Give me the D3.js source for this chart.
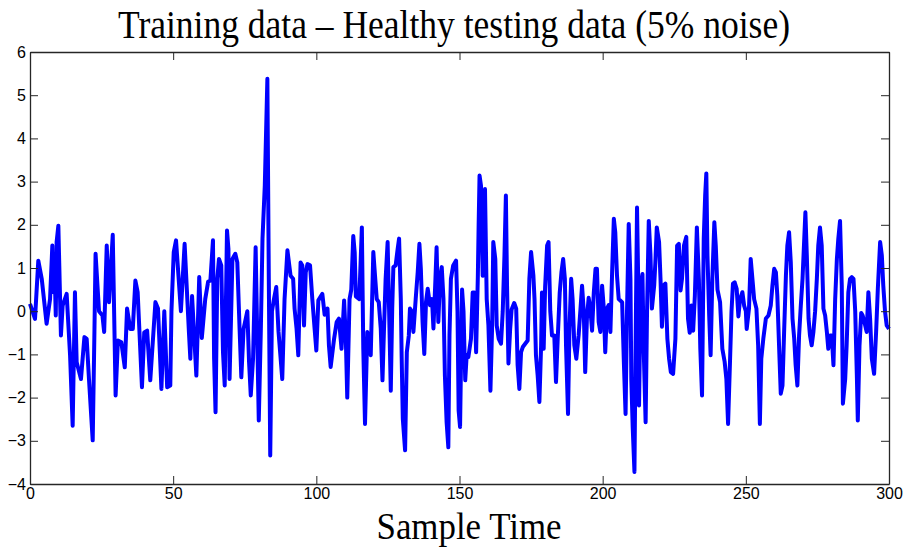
<!DOCTYPE html>
<html>
<head>
<meta charset="utf-8">
<script src="https://cdn.jsdelivr.net/npm/d3@7"></script>
<style>
  body { margin: 0; background: #fff; }
  svg { display: block; }
</style>
</head>
<body>
<svg id="chart" width="909" height="548"></svg>
<script>
// values (turning points of the trace)
const sampleTime = [
  0, 1.75, 2.9, 4.1, 5.8, 7.0, 7.8, 8.2, 8.5, 9.0, 9.3, 9.9, 10.8, 11.4, 12.8, 14.0, 14.9, 15.7, 16.3, 17.8,
  19.0, 19.8, 20.6, 21.9, 22.5, 22.9, 24.1, 25.3, 25.9, 26.8, 27.6, 28.9, 29.9, 30.7, 31.9, 33.1, 33.9, 35.0, 35.9, 36.8,
  37.6, 39.1, 39.9, 40.9, 42.0, 43.8, 44.7, 45.9, 46.9, 47.9, 49.0, 49.4, 50.2, 51.0, 52.7, 54.0, 55.5, 56.0, 56.6, 58.1,
  59.1, 60.0, 61.2, 62.2, 63.0, 63.9, 64.3, 64.8, 65.4, 66.0, 66.8, 67.4, 68.0, 68.8, 69.3, 69.7, 70.7, 71.7, 72.4, 73.2,
  73.8, 74.6, 75.9, 76.5, 77.1, 77.9, 78.8, 79.9, 80.6, 81.2, 82.0, 82.9, 83.4, 83.9, 84.5, 85.2, 86.0, 86.8, 88.1, 88.9,
  89.9, 91.0, 91.9, 92.4, 93.1, 93.7, 94.5, 95.1, 95.7, 96.3, 96.9, 97.8, 98.6, 99.4, 100.0, 100.7, 102.1, 102.9, 103.9, 104.4,
  105.0, 106.2, 107.1, 107.9, 108.8, 109.7, 110.3, 110.8, 111.6, 112.2, 112.9, 113.4, 113.8, 115.0, 115.9, 116.4, 117.0, 117.8, 119.0, 119.9,
  120.5, 121.1, 121.8, 122.5, 123.1, 123.6, 124.2, 124.9, 125.4, 126.0, 126.5, 126.9, 127.7, 128.4, 128.9, 129.5, 129.8, 130.2, 131.0, 131.6,
  132.3, 132.7, 133.3, 133.9, 134.7, 135.4, 136.0, 136.5, 137.1, 137.7, 138.3, 138.9, 139.7, 140.4, 140.9, 141.6, 142.0, 142.6, 143.2, 143.8,
  144.4, 144.9, 145.5, 146.1, 146.5, 147.0, 147.8, 148.8, 149.3, 149.7, 150.2, 150.9, 151.4, 152.0, 152.5, 153.1, 154.0, 154.6, 155.2, 155.8,
  156.4, 156.7, 157.0, 157.5, 158.1, 158.4, 158.9, 159.5, 160.1, 160.8, 161.4, 161.8, 162.5, 163.0, 163.7, 164.5, 165.1, 165.7, 166.2, 166.6,
  167.1, 167.7, 168.2, 169.1, 169.8, 170.3, 170.9, 171.5, 172.1, 173.8, 174.4, 175.0, 175.8, 176.2, 176.7, 177.3, 177.9, 178.5, 178.8, 179.4,
  179.9, 180.6, 181.1, 181.7, 182.3, 183.1, 183.7, 184.3, 185.0, 185.6, 186.2, 186.8, 187.2, 187.9, 188.4, 189.0, 189.5, 190.1, 190.8, 191.6,
  192.2, 192.8, 193.4, 193.9, 194.5, 195.1, 195.7, 196.3, 196.9, 197.5, 198.0, 198.6, 199.2, 199.8, 200.4, 200.9, 201.5, 202.1, 202.7, 203.3,
  203.9, 204.4, 205.0, 205.6, 206.8, 207.4, 208.0, 208.5, 209.1, 209.7, 210.0, 210.5, 211.1, 211.5, 212.0, 212.4, 212.7, 213.3, 213.9, 214.3,
  215.0, 215.5, 216.1, 216.7, 217.2, 218.0, 218.4, 218.9, 219.7, 220.2, 220.7, 221.3, 221.9, 222.6, 223.2, 223.8, 224.6, 225.4, 226.0, 226.6,
  227.2, 227.7, 228.4, 229.2, 229.8, 230.4, 231.0, 231.6, 232.2, 232.9, 233.6, 234.1, 234.7, 235.3, 235.8, 236.2, 236.6, 237.2, 237.7, 238.3,
  239.0, 239.5, 240.1, 241.0, 241.8, 242.6, 243.2, 243.8, 244.5, 245.0, 245.5, 246.1, 246.8, 247.4, 248.0, 248.8, 249.4, 250.0, 250.3, 251.1,
  251.7, 252.3, 252.9, 253.7, 254.3, 254.9, 255.4, 256.1, 257.0, 257.9, 258.7, 259.3, 259.9, 260.5, 261.0, 261.6, 262.2, 262.8, 263.4, 264.0,
  264.5, 265.1, 265.7, 266.3, 266.9, 267.4, 268.0, 268.6, 269.2, 269.8, 270.3, 270.8, 271.3, 271.9, 272.4, 273.0, 273.6, 274.2, 274.8, 275.3,
  275.9, 276.5, 277.1, 277.7, 278.3, 278.8, 279.4, 280.0, 280.6, 281.2, 281.8, 282.3, 282.9, 283.5, 283.9, 284.7, 285.2, 285.8, 286.4, 287.0,
  287.6, 288.2, 288.8, 289.1, 289.7, 290.3, 290.8, 291.7, 292.2, 292.8, 293.4, 294.0, 294.8, 295.5, 296.1, 296.9, 297.5, 298.0, 298.6, 299.2,
  300.0
];
const signal = [
  0.17, -0.18, 1.17, 0.75, -0.29, 0.28, 1.52, 0.44, 1.21, -0.1, 1.6, 1.98, -0.56, 0.13, 0.4, -1.03, -2.65, 0.44, -1.18, -1.57,
  -0.6, -0.64, -1.57, -2.99, -0.48, 1.33, 0.0, -0.1, -0.48, 1.52, 0.21, 1.77, -1.95, -0.68, -0.72, -1.3, 0.06, -0.41, -0.41, 0.71,
  0.44, -1.76, -0.49, -0.45, -1.6, 0.21, 0.06, -1.8, 0.0, -1.76, -1.72, 0.0, 1.37, 1.64, 0.0, 1.56, -0.48, -1.1, 0.35, -1.49,
  0.79, -0.62, 0.28, 0.68, 0.71, 1.64, -1.1, -2.34, 0.75, 1.21, 1.06, -0.95, -1.72, 1.87, 1.44, -1.57, 1.21, 1.33, 1.13, -0.41,
  -1.53, -0.41, 0.0, -1.17, -1.95, -1.1, 1.48, -2.53, -0.48, 1.68, 2.91, 5.38, 0.75, -3.34, 0.0, 0.28, 0.56, -0.48, -1.57, 0.28,
  1.41, 0.82, 0.75, 0.06, -0.41, -1.02, 1.13, 1.06, -0.33, 0.9, 1.09, 1.06, 0.28, -0.41, -0.91, 0.25, 0.4, -0.08, 0.06, -0.79,
  -1.29, -0.64, -0.25, -0.17, -0.87, 0.25, -0.64, -2.0, 0.28, 0.5, 1.74, 1.36, 0.34, 0.28, 1.94, -0.87, -2.61, -0.48, -1.02, 1.37,
  0.82, 0.28, 0.21, -0.4, -1.6, -0.48, 0.75, 1.6, 0.06, -1.84, 0.06, 1.02, 1.06, 1.44, 1.68, 0.28, -1.06, -2.49, -3.22, -0.95,
  -0.56, 0.06, 0.0, -0.48, 0.28, 0.9, 1.56, 0.98, -0.25, -0.99, 0.21, 0.52, 0.14, 0.28, -0.4, 0.75, 1.48, -0.25, 0.75, 1.02,
  0.28, -1.49, -2.57, -3.15, -0.56, 0.75, 1.06, 1.17, 0.0, -2.3, -2.68, 0.5, 0.0, -1.6, -1.02, -1.06, -0.64, 0.43, 0.43, -0.95,
  0.79, 2.06, 3.14, 2.91, 0.82, 1.13, 2.83, 0.28, -0.33, -1.84, -0.33, 1.6, 1.21, -0.33, -0.64, -0.75, 0.0, 1.29, 2.68, 0.6,
  -1.21, -0.4, 0.04, 0.19, 0.06, -1.25, -1.8, -0.95, -0.83, -0.68, 0.75, 1.37, 0.83, 0.28, -1.02, -1.49, -2.1, -0.8, 0.43, -0.87,
  0.56, 1.52, 1.6, 0.0, -0.56, -0.56, -1.64, -0.64, 0.43, 0.9, 1.21, 0.75, -0.79, -2.38, -0.41, 0.75, 0.28, -0.79, -1.1, -0.56,
  0.0, 0.59, 0.0, -1.41, -0.17, 0.31, 0.06, -0.45, 0.43, 0.98, 0.98, -0.25, -0.48, 0.59, 0.06, -0.95, 0.06, 0.14, -0.48, 0.9,
  2.14, 1.83, 0.83, 0.28, 0.21, -1.18, -2.38, 0.0, 2.02, 0.75, -1.57, -2.7, -3.72, -0.79, 2.4, 0.75, -2.18, 0.6, 0.86, -0.8,
  -2.57, 0.0, 2.09, 1.29, 0.06, 0.6, 1.13, 1.94, 1.6, 0.75, -0.36, 0.6, 0.64, -0.64, -1.1, -1.41, -1.45, -0.64, 1.52, 1.56,
  0.48, 0.75, 1.52, 1.72, -0.17, -0.5, 0.13, -0.45, 0.36, 1.94, 0.75, -0.87, -1.95, 1.68, 2.68, 3.19, 1.29, -0.1, -1.02, 0.75,
  2.06, 1.52, 0.5, 0.21, -0.87, -1.17, -1.57, -2.61, -1.1, 0.0, 0.64, 0.67, 0.52, -0.12, 0.28, 0.44, 0.13, 0.0, -0.41, 0.06,
  1.21, 0.75, 0.28, 0.06, -0.79, -2.61, -1.1, -0.64, -0.17, -0.1, 0.13, 0.6, 0.98, 0.9, 0.36, -0.79, -1.91, -1.72, -0.41, 0.83,
  1.52, 1.83, 1.13, -0.17, -0.64, -1.25, -1.72, -0.56, 0.13, 0.75, 1.52, 2.29, 1.29, -0.17, -0.56, -0.79, -0.48, 0.0, 0.75, 1.52,
  1.94, 1.52, 0.06, -0.1, -0.48, -0.87, -0.56, -0.56, -1.25, 0.28, 1.21, 1.68, 2.09, 0.6, -2.14, -1.57, -0.79, 0.44, 0.75, 0.79,
  0.75, 0.0, -1.57, -2.53, -0.79, -0.04, -0.1, -0.33, -0.48, 0.44, -0.17, -1.1, -1.45, -0.48, 0.52, 1.6, 1.29, 0.6, 0.0, -0.33,
  -0.41
];
const xTicks = [0, 50, 100, 150, 200, 250, 300];
const yTicks = [-4, -3, -2, -1, 0, 1, 2, 3, 4, 5, 6];
const chartTitle = "Training data \u2013 Healthy testing data (5% noise)";
const xLabel = "Sample Time";

const width = 909, height = 548;
const margin = {top: 52, right: 20, bottom: 64, left: 30};
const innerW = width - margin.left - margin.right;
const innerH = height - margin.top - margin.bottom;

const svg = d3.select("#chart");
const g = svg.append("g").attr("transform", `translate(${margin.left},${margin.top})`);

const x = d3.scaleLinear().domain([0, 300]).range([0, innerW]);
const y = d3.scaleLinear().domain([-4, 6]).range([innerH, 0]);

const points = sampleTime.map((t, i) => ({t: t, v: signal[i]}));

const line = d3.line()
    .x(d => x(d.t))
    .y(d => y(d.v));

g.append("path")
    .datum(points)
    .attr("fill", "none")
    .attr("stroke", "#0000ff")
    .attr("stroke-width", 4)
    .attr("stroke-linejoin", "round")
    .attr("d", line);

// box with ticks pointing inwards, matlab style
function styleAxis(sel) {
    sel.select(".domain").attr("stroke", "#262626").attr("stroke-width", 1.3);
    sel.selectAll(".tick line").attr("stroke", "#262626");
    sel.selectAll(".tick text")
        .attr("fill", "#000")
        .style("font-family", "'Liberation Sans', Arial, sans-serif")
        .style("font-size", "16px");
}

g.append("g")
    .attr("transform", `translate(0,${innerH})`)
    .call(d3.axisBottom(x).tickValues(xTicks).tickSize(-8).tickSizeOuter(0).tickPadding(4))
    .call(styleAxis);

g.append("g")
    .call(d3.axisTop(x).tickValues(xTicks).tickSize(-8).tickSizeOuter(0).tickFormat(""))
    .call(styleAxis);

g.append("g")
    .call(d3.axisLeft(y).tickValues(yTicks).tickSize(-8).tickSizeOuter(0).tickPadding(4))
    .call(styleAxis);

g.append("g")
    .attr("transform", `translate(${innerW},0)`)
    .call(d3.axisRight(y).tickValues(yTicks).tickSize(-8).tickSizeOuter(0).tickFormat(""))
    .call(styleAxis);

svg.append("text")
    .attr("x", 454)
    .attr("y", 38)
    .attr("text-anchor", "middle")
    .attr("textLength", 672)
    .attr("lengthAdjust", "spacingAndGlyphs")
    .style("font-family", "'Liberation Serif', 'DejaVu Serif', serif")
    .style("font-size", "41px")
    .attr("fill", "#000")
    .text(chartTitle);

svg.append("text")
    .attr("x", 469)
    .attr("y", 539)
    .attr("text-anchor", "middle")
    .attr("textLength", 185)
    .attr("lengthAdjust", "spacingAndGlyphs")
    .style("font-family", "'Liberation Serif', 'DejaVu Serif', serif")
    .style("font-size", "38px")
    .attr("fill", "#000")
    .text(xLabel);
</script>
</body>
</html>
